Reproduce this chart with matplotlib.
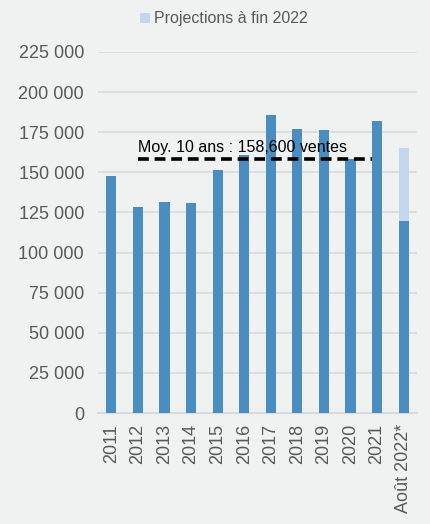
import matplotlib.pyplot as plt
import numpy as np

plt.rcParams['font.family'] = ['Liberation Sans', 'DejaVu Sans']

# annual sales
years = ["2011", "2012", "2013", "2014", "2015", "2016", "2017", "2018",
         "2019", "2020", "2021", "Août 2022*"]
sales = [148000, 128500, 131500, 131000, 151500, 161000, 185800, 177200,
         176400, 158000, 181800, 119500]
projection_total = 165000  # projected end of 2022
avg_10y = 158600

bg = "#EFF2F1"
dark_blue = "#4A8DC0"
light_blue = "#C5D7EE"
grey_txt = "#595959"

fig = plt.figure(figsize=(4.31, 5.24), dpi=100, facecolor=bg)
ax = fig.add_axes([98 / 431, 1 - 413 / 524, 319 / 431, 361 / 524], facecolor=bg)

x = np.arange(len(years))
ax.bar(x, sales, width=0.38, color=dark_blue, zorder=3)
# projected remainder on the last bar
ax.bar(x[-1], projection_total - sales[-1], bottom=sales[-1], width=0.38,
       color=light_blue, zorder=3, label="Projections à fin 2022")

# 10 year average line
ax.plot([x[1], x[9] + 0.8], [avg_10y, avg_10y], color="black", lw=2.6,
        ls=(0, (3, 1.6)), zorder=4)
ax.text(x[1], avg_10y + 2500, "Moy. 10 ans : 158,600 ventes", fontsize=11.5,
        color="black", va="bottom", ha="left", zorder=5)

ax.set_xlim(-0.5, len(years) - 0.5)
ax.set_ylim(0, 225000)
yt = np.arange(0, 225001, 25000)
ax.set_yticks(yt)
ax.set_yticklabels([f"{v:,}".replace(",", " ") for v in yt])
ax.set_xticks(x)
ax.set_xticklabels(years, rotation=90)
ax.tick_params(axis="both", length=0, colors=grey_txt, labelsize=13)
ax.tick_params(axis="y", pad=10)
ax.tick_params(axis="x", pad=8)

ax.yaxis.grid(True, color="#DADADA", lw=1.2, zorder=0)
for s in ["top", "right", "left"]:
    ax.spines[s].set_visible(False)
ax.spines["bottom"].set_color("#D9D9D9")
ax.spines["bottom"].set_linewidth(1.5)

leg = fig.legend(loc="center", bbox_to_anchor=(224 / 431, 1 - 19 / 524),
                 frameon=False, fontsize=11.5, handlelength=0.6,
                 handleheight=0.6, handletextpad=0.3)
for t in leg.get_texts():
    t.set_color(grey_txt)

fig.savefig("out.png", dpi=100, facecolor=bg)
